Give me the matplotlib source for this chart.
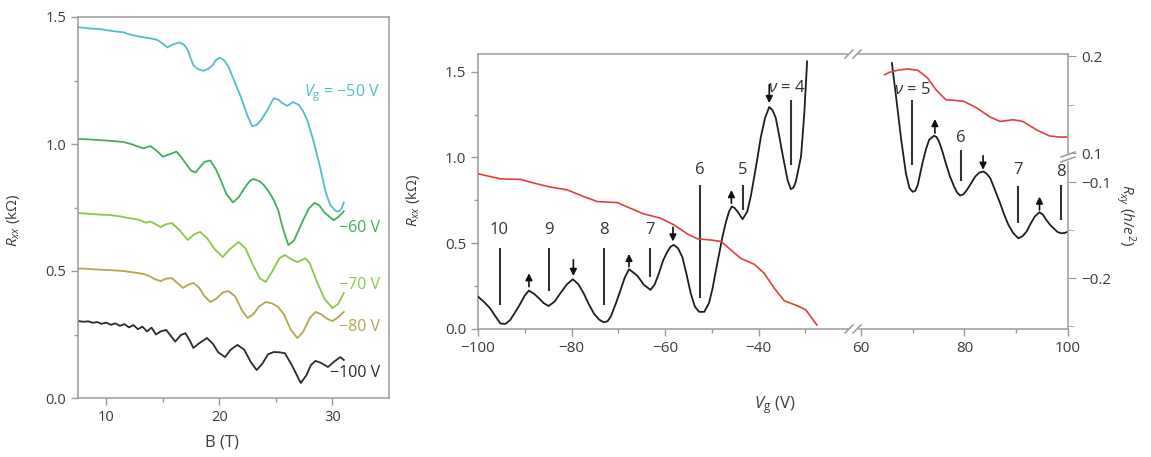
import numpy as np
import matplotlib
matplotlib.use("Agg")
import matplotlib.pyplot as plt
from matplotlib.lines import Line2D
from matplotlib.patches import Rectangle
from matplotlib.ticker import FixedLocator, FuncFormatter, NullLocator

# ---------------- (a) Rxx versus magnetic field at several gate voltages ----------------
b_m50 = [7.5, 8.5, 9.5, 10.5, 11.5, 12.0, 12.7, 13.3, 14.0, 14.5, 15.0, 15.4, 15.9, 16.5,
         16.9, 17.2, 17.7, 18.1, 18.6, 19.0, 19.4, 19.7, 20.0, 20.4, 20.8, 21.3, 21.9, 22.5,
         22.9, 23.3, 23.7, 24.2, 24.8, 25.2, 25.6, 26.0, 26.5, 27.0, 27.4, 27.8, 28.3, 28.9,
         29.4, 29.8, 30.3, 30.6, 30.8, 31.0]
r_m50 = [1.460, 1.455, 1.452, 1.445, 1.440, 1.432, 1.425, 1.420, 1.415, 1.410, 1.395, 1.380,
         1.392, 1.400, 1.390, 1.370, 1.310, 1.295, 1.288, 1.295, 1.310, 1.330, 1.340, 1.330,
         1.305, 1.250, 1.185, 1.110, 1.070, 1.075, 1.095, 1.130, 1.180, 1.175, 1.160, 1.150,
         1.165, 1.155, 1.130, 1.090, 1.016, 0.910, 0.810, 0.760, 0.736, 0.735, 0.745, 0.770]

b_m60 = [7.5, 8.5, 9.5, 10.5, 11.5, 12.2, 12.8, 13.3, 13.9, 14.5, 15.0, 15.5, 16.2, 16.6,
         17.0, 17.5, 17.9, 18.3, 18.7, 19.2, 19.7, 20.1, 20.6, 21.2, 21.7, 22.2, 22.7, 23.0,
         23.5, 23.9, 24.4, 24.8, 25.2, 25.6, 26.1, 26.6, 27.0, 27.4, 27.9, 28.4, 28.8, 29.3,
         29.7, 30.1, 30.5, 31.0]
r_m60 = [1.020, 1.018, 1.015, 1.012, 1.008, 1.000, 0.990, 0.983, 0.992, 0.972, 0.950, 0.958,
         0.970, 0.950, 0.925, 0.895, 0.888, 0.910, 0.930, 0.935, 0.900, 0.860, 0.805, 0.770,
         0.790, 0.825, 0.855, 0.862, 0.855, 0.840, 0.810, 0.780, 0.740, 0.670, 0.602, 0.620,
         0.660, 0.700, 0.745, 0.768, 0.760, 0.730, 0.715, 0.700, 0.712, 0.735]

b_m70 = [7.5, 8.5, 9.5, 10.4, 11.2, 11.9, 12.5, 13.0, 13.5, 13.9, 14.3, 14.8, 15.3, 15.8,
         16.5, 17.2, 17.8, 18.3, 18.9, 19.6, 20.3, 20.9, 21.7, 22.3, 23.0, 23.6, 24.1, 24.7,
         25.3, 25.8, 26.4, 26.9, 27.6, 28.0, 28.6, 29.3, 30.0, 30.5, 31.0]
r_m70 = [0.728, 0.725, 0.722, 0.720, 0.715, 0.709, 0.705, 0.700, 0.690, 0.695, 0.686, 0.673,
         0.684, 0.689, 0.660, 0.622, 0.645, 0.654, 0.630, 0.585, 0.555, 0.585, 0.614, 0.590,
         0.520, 0.470, 0.457, 0.500, 0.550, 0.563, 0.545, 0.535, 0.550, 0.530, 0.460, 0.390,
         0.354, 0.370, 0.413]

b_m80 = [7.5, 8.5, 9.5, 10.5, 11.5, 12.3, 12.8, 13.3, 13.8, 14.3, 14.8, 15.3, 15.8, 16.3,
         16.8, 17.2, 17.7, 18.2, 18.7, 19.2, 19.7, 20.3, 20.8, 21.4, 22.0, 22.5, 23.0, 23.5,
         24.1, 24.7, 25.2, 25.7, 26.3, 26.9, 27.4, 28.0, 28.5, 29.0, 29.5, 30.0, 30.5, 31.0]
r_m80 = [0.510, 0.508, 0.505, 0.503, 0.500, 0.495, 0.492, 0.488, 0.480, 0.468, 0.460, 0.470,
         0.472, 0.452, 0.433, 0.445, 0.453, 0.435, 0.400, 0.378, 0.390, 0.415, 0.421, 0.400,
         0.345, 0.315, 0.330, 0.360, 0.378, 0.372, 0.358, 0.330, 0.270, 0.236, 0.260, 0.315,
         0.339, 0.330, 0.312, 0.303, 0.318, 0.339]

b_m100 = [7.5, 8.0, 8.4, 8.8, 9.2, 9.6, 10.0, 10.4, 10.8, 11.2, 11.6, 12.0, 12.4, 12.8, 13.2,
          13.6, 14.0, 14.4, 14.8, 15.3, 15.7, 16.1, 16.6, 17.0, 17.4, 17.7, 18.2, 18.9, 19.4,
          19.9, 20.5, 21.0, 21.6, 22.2, 22.8, 23.3, 23.8, 24.3, 24.8, 25.3, 25.8, 26.4, 27.2,
          27.7, 28.1, 28.5, 29.0, 29.6, 30.2, 30.7, 31.0]
r_m100 = [0.303, 0.300, 0.302, 0.296, 0.299, 0.292, 0.297, 0.288, 0.294, 0.284, 0.291, 0.278,
          0.287, 0.271, 0.281, 0.262, 0.277, 0.250, 0.262, 0.268, 0.245, 0.222, 0.248, 0.255,
          0.225, 0.197, 0.215, 0.236, 0.215, 0.180, 0.161, 0.190, 0.209, 0.190, 0.140, 0.110,
          0.135, 0.172, 0.181, 0.180, 0.176, 0.130, 0.059, 0.090, 0.130, 0.146, 0.138, 0.122,
          0.145, 0.161, 0.150]

trace_labels = ["$V_\\mathrm{g}$ = \u221250 V", "\u221260 V", "\u221270 V", "\u221280 V", "\u2212100 V"]
trace_label_y = [1.20, 0.67, 0.445, 0.28, 0.098]

# ---------------- (b) Rxx and Rxy versus gate voltage at fixed field ----------------
vg_holes = [-100, -98.6, -97.4, -96.3, -95.2, -94.1, -93.1, -92.0, -90.9, -90.0, -89.1, -88.0,
            -87.0, -85.9, -84.9, -83.6, -82.4, -81.0, -79.7, -78.5, -77.4, -76.3, -75.2, -74.1,
            -73.1, -72.3, -71.6, -70.5, -69.5, -68.6, -67.7, -66.8, -65.9, -64.5, -63.1, -62.2,
            -61.3, -60.4, -59.5, -58.8, -58.1, -57.2, -56.3, -55.4, -54.5, -53.6, -52.7, -51.6,
            -50.6, -49.8, -49.1, -48.4, -47.7, -47.0, -46.3, -45.7, -45.1, -44.5, -43.4, -42.4,
            -41.6, -40.9, -40.2, -39.5, -38.6, -37.7, -37.0, -36.3, -35.6, -34.9, -33.8, -33.1,
            -32.5, -32.0, -30.9, -30.2, -29.6]
rxx_holes = [0.189, 0.155, 0.120, 0.075, 0.032, 0.030, 0.053, 0.100, 0.150, 0.195, 0.224,
             0.205, 0.180, 0.150, 0.134, 0.160, 0.208, 0.260, 0.290, 0.260, 0.208, 0.145,
             0.090, 0.055, 0.039, 0.045, 0.072, 0.150, 0.228, 0.300, 0.348, 0.330, 0.310,
             0.257, 0.228, 0.260, 0.325, 0.400, 0.450, 0.480, 0.490, 0.470, 0.420, 0.320,
             0.208, 0.130, 0.100, 0.100, 0.150, 0.240, 0.344, 0.440, 0.539, 0.620, 0.685,
             0.714, 0.705, 0.685, 0.640, 0.685, 0.780, 0.889, 1.000, 1.120, 1.230, 1.294,
             1.275, 1.230, 1.130, 1.025, 0.870, 0.815, 0.825, 0.860, 1.006, 1.259, 1.560]

vg_electrons = [66.0, 66.8, 67.8, 68.7, 69.4, 70.0, 70.5, 71.0, 71.9, 72.6, 73.2, 74.1, 74.6,
                75.1, 75.7, 76.4, 77.2, 78.0, 78.6, 79.2, 79.8, 80.5, 81.3, 82.1, 82.9,
                83.7, 84.3, 85.0, 85.9, 86.9, 87.7, 88.5, 89.4, 90.4, 91.2, 92.0, 92.8,
                93.6, 94.5, 95.2, 95.8, 96.6, 97.4, 98.0, 98.7, 99.4, 100.0]
rxx_electrons = [1.550, 1.356, 1.103, 0.909, 0.821, 0.800, 0.805, 0.840, 0.967, 1.050, 1.103,
                 1.126, 1.120, 1.093, 1.040, 0.967, 0.890, 0.831, 0.795, 0.778, 0.785, 0.811,
                 0.850, 0.889, 0.912, 0.918, 0.905, 0.879, 0.810, 0.733, 0.665, 0.607, 0.560,
                 0.529, 0.540, 0.568, 0.615, 0.656, 0.681, 0.665, 0.636, 0.605, 0.582, 0.565,
                 0.558, 0.560, 0.568]

vg_rxy_holes = [-100, -95.2, -90.9, -87.4, -84.5, -80.9, -77.4, -74.5, -70.2, -67.4, -64.5,
                -61.0, -58.1, -55.2, -53.0, -50.2, -48.0, -45.9, -43.8, -40.9, -38.8, -36.6,
                -34.5, -31.6, -29.9, -27.5]
rxy_holes = [-0.0909, -0.0962, -0.0968, -0.1014, -0.1048, -0.1077, -0.1147, -0.1199, -0.1210,
             -0.1269, -0.1328, -0.1372, -0.1442, -0.1537, -0.1589, -0.1600, -0.1616, -0.1704,
             -0.1792, -0.1854, -0.1947, -0.2105, -0.2234, -0.2289, -0.2329, -0.2488]

vg_rxy_electrons = [64.6, 65.5, 67.1, 69.0, 71.0, 72.9, 74.5, 76.4, 78.0, 79.9, 82.4, 85.0,
                    86.9, 89.4, 91.3, 93.9, 96.4, 98.3, 100.0]
rxy_electrons = [0.1810, 0.1834, 0.1856, 0.1870, 0.1856, 0.1776, 0.1655, 0.1552, 0.1545,
                 0.1535, 0.1466, 0.1372, 0.1327, 0.1345, 0.1327, 0.1241, 0.1178, 0.1166, 0.1166]

# filling-factor markers: (Vg, bottom, top) of each bar and its label
nu_bar_vg = [-95.4, -84.8, -73.0, -63.2, -52.6, -43.4, -33.1, 69.9, 79.3, 90.4, 98.7]
nu_bar_lo = [0.140, 0.224, 0.140, 0.305, 0.179, 0.694, 0.957, 0.957, 0.860, 0.617, 0.636]
nu_bar_hi = [0.471, 0.471, 0.471, 0.471, 0.840, 0.840, 1.335, 1.337, 1.045, 0.831, 0.840]
nu_text = ["10", "9", "8", "7", "6", "5", "$\\nu$ = 4", "$\\nu$ = 5", "6", "7", "8"]
nu_text_vg = [-95.4, -84.8, -73.0, -63.2, -52.6, -43.4, -33.9, 70.0, 79.4, 90.4, 98.7]
nu_text_r = [0.578, 0.578, 0.578, 0.578, 0.928, 0.928, 1.403, 1.395, 1.113, 0.928, 0.918]

# spin-split arrows: (Vg, tail, head)
arrow_vg = [-89.1, -79.6, -67.7, -58.3, -45.8, -37.7, 74.3, 83.6, 94.5]
arrow_tail = [0.247, 0.403, 0.364, 0.593, 0.733, 1.424, 1.142, 1.010, 0.694]
arrow_head = [0.325, 0.309, 0.438, 0.510, 0.810, 1.317, 1.224, 0.928, 0.772]

# Rxy axis is broken between +0.1 and -0.1 (piecewise-linear mapping onto the Rxx scale)
rxy_knots = [-1.0, -0.08, 0.1, 1.0]
rxx_knots = [0.854 - 0.9 * 5.584, 0.854 + 0.02 * 5.584, 1.0253, 1.0253 + 0.9 * 5.642]


def rxy_fwd(v):
    return np.interp(v, rxy_knots, rxx_knots)


def rxy_inv(r):
    return np.interp(r, rxx_knots, rxy_knots)


# ---------------- style ----------------
plt.rcParams.update({
    "font.family": ["Open Sans", "DejaVu Sans"],
    "mathtext.fontset": "custom",
    "mathtext.rm": "Open Sans",
    "mathtext.it": "Open Sans:italic",
    "mathtext.sf": "Open Sans",
    "axes.unicode_minus": True,
})
SPINE = "#9a9a9a"
TXT = "#3c3c3c"
W, H = 1151, 457

fig = plt.figure(figsize=(W / 100, H / 100), dpi=100)


def px_axes(x0, y0, x1, y1):
    return fig.add_axes([x0 / W, 1 - y1 / H, (x1 - x0) / W, (y1 - y0) / H])


def style_axis(ax, size):
    for s in ax.spines.values():
        s.set_color(SPINE)
        s.set_linewidth(1.1)
    ax.tick_params(which="both", direction="out", color=SPINE, labelcolor=TXT,
                   labelsize=size, width=1.0)
    ax.tick_params(which="major", length=5)
    ax.tick_params(which="minor", length=3)


def minus_fmt(fmt):
    return FuncFormatter(lambda v, _: fmt.format(v).replace("-", "\u2212"))


# ---- left panel ----
axa = px_axes(78, 17, 389, 398)
style_axis(axa, 10.5)
trace_colors = ["#55bcc8", "#45ad5c", "#8cc84a", "#b4a64c", "#2a2a2a"]
for b, r, c in zip([b_m50, b_m60, b_m70, b_m80, b_m100],
                   [r_m50, r_m60, r_m70, r_m80, r_m100], trace_colors):
    axa.plot(b, r, color=c, lw=1.3)
for lab, y, c in zip(trace_labels, trace_label_y, trace_colors):
    axa.text(34.2, y, lab, color=c, fontsize=11.5, ha="right", va="center")
axa.set_xlim(7.5, 35)
axa.set_ylim(0, 1.5)
axa.xaxis.set_major_locator(FixedLocator([10, 20, 30]))
axa.xaxis.set_minor_locator(FixedLocator([15, 25]))
axa.yaxis.set_major_locator(FixedLocator([0, 0.5, 1.0, 1.5]))
axa.yaxis.set_minor_locator(FixedLocator([0.25, 0.75, 1.25]))
axa.yaxis.set_major_formatter(minus_fmt("{:.1f}"))
axa.set_xlabel("B (T)", fontsize=12, color=TXT)
axa.xaxis.set_label_coords(0.463, -0.095)
axa.set_ylabel("$R_{xx}$ (k\u03a9)", fontsize=11, color=TXT)
axa.yaxis.set_label_coords(-0.18, 0.467)

# ---- right panel: hole side and electron side segments ----
Y_TOP = 1.603
axl = px_axes(478, 54, 852, 329)
axr = px_axes(852, 54, 1068, 329)
for ax in (axl, axr):
    style_axis(ax, 11)
    ax.set_ylim(0, Y_TOP)
axl.spines["right"].set_visible(False)
axr.spines["left"].set_visible(False)
axr.spines["right"].set_visible(False)
axr.yaxis.set_major_locator(NullLocator())
axr.yaxis.set_minor_locator(NullLocator())
axr.tick_params(axis="y", which="both", left=False, right=False,
                labelleft=False, labelright=False)

axl.set_xlim(-100, -20)
axr.set_xlim(58.3, 100)
axl.xaxis.set_major_locator(FixedLocator([-100, -80, -60, -40]))
axl.xaxis.set_minor_locator(FixedLocator([-90, -70, -50, -30]))
axl.xaxis.set_major_formatter(minus_fmt("{:.0f}"))
axr.xaxis.set_major_locator(FixedLocator([60, 80, 100]))
axr.xaxis.set_minor_locator(FixedLocator([70, 90]))
axl.yaxis.set_major_locator(FixedLocator([0, 0.5, 1.0, 1.5]))
axl.yaxis.set_minor_locator(FixedLocator([0.25, 0.75, 1.25]))
axl.yaxis.set_major_formatter(minus_fmt("{:.1f}"))
axl.set_ylabel("$R_{xx}$ (k\u03a9)", fontsize=11, color=TXT)
axl.yaxis.set_label_coords(-0.15, 0.47)

axl.plot(vg_holes, rxx_holes, color="#1e1e1e", lw=1.3, zorder=3)
axr.plot(vg_electrons, rxx_electrons, color="#1e1e1e", lw=1.3, zorder=3)

# Rxy on a broken secondary axis
RED = "#e0403c"
axl2 = axl.twinx()
axr2 = axr.twinx()
for ax2 in (axl2, axr2):
    ax2.set_yscale("function", functions=(rxy_fwd, rxy_inv))
    ax2.set_ylim(float(rxy_inv(0.0)), float(rxy_inv(Y_TOP)))
    for s in ax2.spines.values():
        s.set_visible(False)
axl2.yaxis.set_major_locator(NullLocator())
axl2.yaxis.set_minor_locator(NullLocator())
axl2.tick_params(axis="y", which="both", left=False, right=False,
                 labelleft=False, labelright=False)
axr2.spines["right"].set_visible(True)
axr2.spines["right"].set_color(SPINE)
axr2.spines["right"].set_linewidth(1.1)
axr2.yaxis.set_major_locator(FixedLocator([0.2, 0.1, -0.1, -0.2]))
axr2.yaxis.set_minor_locator(FixedLocator([0.15, -0.15, -0.25]))
axr2.yaxis.set_major_formatter(minus_fmt("{:.1f}"))
axr2.tick_params(axis="y", which="both", direction="out", color=SPINE, labelcolor=TXT,
                 labelsize=11, left=False, labelleft=False, right=True, labelright=True)
axr2.tick_params(which="major", length=6)
axr2.tick_params(which="minor", length=4)
axr2.set_ylabel("$R_{xy}$ ($h$/$e^2$)", fontsize=11, color=TXT, rotation=270)
axr2.yaxis.set_label_coords(1.32, 0.415)

axl2.plot(vg_rxy_holes, rxy_holes, color=RED, lw=1.2, zorder=2)
axr2.plot(vg_rxy_electrons, rxy_electrons, color=RED, lw=1.2, zorder=2)

# filling-factor bars, labels and spin arrows
for vg, lo, hi, t, tv, tr in zip(nu_bar_vg, nu_bar_lo, nu_bar_hi, nu_text, nu_text_vg, nu_text_r):
    ax = axl if vg < 0 else axr
    ax.vlines(vg, lo, hi, color="#333333", lw=1.5, zorder=4)
    ax.text(tv, tr, t, fontsize=12, color="#333333", ha="center", va="center", zorder=5)
for vg, tail, head in zip(arrow_vg, arrow_tail, arrow_head):
    ax = axl if vg < 0 else axr
    ax.annotate("", xy=(vg, head), xytext=(vg, tail),
                arrowprops=dict(arrowstyle="-|>", color="#111111", lw=1.2,
                                mutation_scale=10, shrinkA=0, shrinkB=0), zorder=5)

fig.text(775 / W, 1 - 405 / H, "$V_\\mathrm{g}$ (V)", fontsize=12, color=TXT,
         ha="center", va="center")


# axis-break marks
def slash_pair(xc, yc, gap, dx, dy):
    fig.add_artist(Rectangle(((xc - gap / 2) / W, 1 - (yc + 2) / H), gap / W, 4 / H,
                             transform=fig.transFigure, color="white", zorder=10))
    for off in (-gap / 2, gap / 2):
        fig.add_artist(Line2D([(xc + off - dx) / W, (xc + off + dx) / W],
                              [1 - (yc + dy) / H, 1 - (yc - dy) / H],
                              transform=fig.transFigure, color=SPINE, lw=1.1, zorder=11))


slash_pair(853, 54, 8, 4, 4)
slash_pair(853, 329, 8, 4, 4)

# break on the Rxy axis between +0.1 and -0.1
fig.add_artist(Rectangle((1064 / W, 1 - 160 / H), 8 / W, 6 / H,
                         transform=fig.transFigure, color="white", zorder=10))
for yc in (154.5, 159.5):
    fig.add_artist(Line2D([1061 / W, 1075 / W], [1 - (yc + 2.5) / H, 1 - (yc - 2.5) / H],
                          transform=fig.transFigure, color=SPINE, lw=1.1, zorder=11))

fig.savefig("out.png", dpi=100)
